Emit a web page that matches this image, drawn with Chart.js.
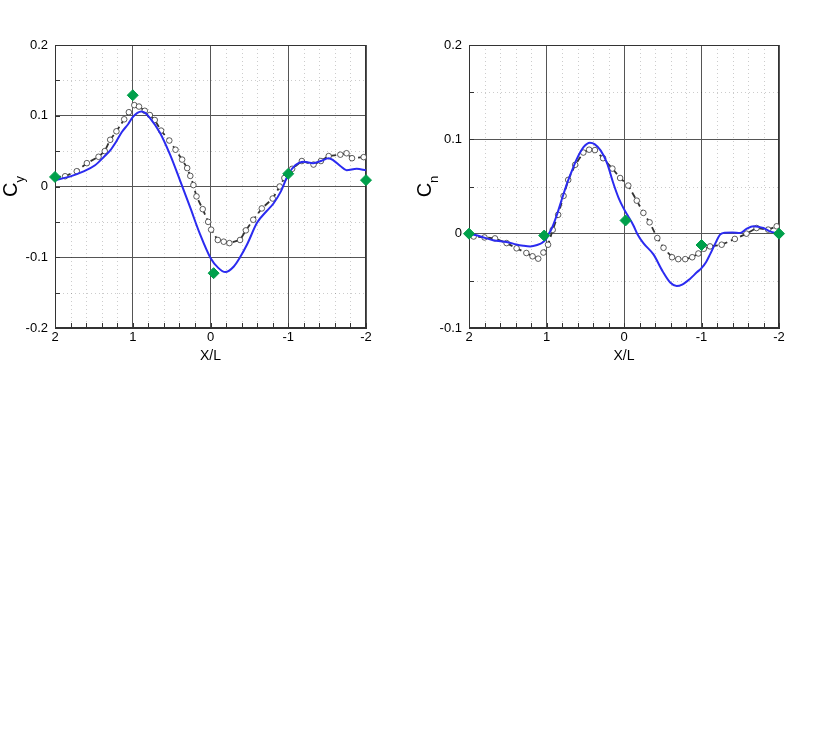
<!DOCTYPE html>
<html>
<head>
<meta charset="utf-8">
<script src="https://cdn.jsdelivr.net/npm/chart.js@4.4.1/dist/chart.umd.min.js"></script>
<style>
  body { margin: 0; background: #fff; width: 830px; height: 739px; position: relative; overflow: hidden; }
  .box { position: absolute; top: 30px; width: 400px; height: 345px; }
  #leftBox { left: 0; }
  #rightBox { left: 410px; }
</style>
</head>
<body>
<div class="box" id="leftBox"><canvas id="cyChart" width="400" height="345"></canvas></div>
<div class="box" id="rightBox"><canvas id="cnChart" width="400" height="345"></canvas></div>
<script>
// tick labels
const xTicks = [2, 1, 0, -1, -2];
const cyTicks = [-0.2, -0.1, 0, 0.1, 0.2];
const cnTicks = [-0.1, 0, 0.1, 0.2];

// Cy - computed (solid blue)
const cyCfdX = [2.0, 1.81, 1.64, 1.485, 1.36, 1.29, 1.21, 1.14, 1.06, 1.0, 0.94, 0.89, 0.84, 0.78, 0.65, 0.52, 0.39, 0.26, 0.14, 0.0, -0.1, -0.19, -0.30, -0.38, -0.47, -0.60, -0.72, -0.81, -0.90, -1.0, -1.09, -1.20, -1.32, -1.42, -1.52, -1.58, -1.67, -1.75, -1.88, -2.0];
const cyCfdY = [0.009, 0.014, 0.021, 0.030, 0.043, 0.051, 0.064, 0.077, 0.088, 0.098, 0.104, 0.106, 0.104, 0.097, 0.076, 0.045, 0.008, -0.030, -0.066, -0.101, -0.115, -0.121, -0.113, -0.100, -0.082, -0.051, -0.035, -0.024, -0.008, 0.017, 0.030, 0.035, 0.033, 0.036, 0.040, 0.037, 0.029, 0.023, 0.025, 0.023];

// Cy - measured (dashed, open circles)
const cyExpX = [2.0, 1.87, 1.72, 1.59, 1.44, 1.36, 1.29, 1.21, 1.11, 1.05, 0.98, 0.92, 0.845, 0.78, 0.717, 0.636, 0.53, 0.45, 0.365, 0.30, 0.26, 0.22, 0.18, 0.10, 0.03, -0.008, -0.094, -0.17, -0.243, -0.38, -0.455, -0.55, -0.66, -0.80, -0.89, -0.95, -1.05, -1.175, -1.325, -1.42, -1.52, -1.67, -1.75, -1.82, -1.97];
const cyExpY = [0.013, 0.0145, 0.0216, 0.033, 0.042, 0.050, 0.066, 0.078, 0.095, 0.105, 0.115, 0.113, 0.107, 0.101, 0.094, 0.079, 0.065, 0.052, 0.038, 0.026, 0.015, 0.002, -0.014, -0.032, -0.050, -0.061, -0.0756, -0.078, -0.080, -0.0756, -0.062, -0.047, -0.031, -0.017, 0.0, 0.012, 0.025, 0.036, 0.031, 0.036, 0.043, 0.045, 0.047, 0.040, 0.0415];

// Cy - green diamonds
const cyDiaX = [2.0, 1.0, -0.04, -1.0, -2.0];
const cyDiaY = [0.0135, 0.129, -0.1225, 0.018, 0.009];

// Cn - computed
const cnCfdX = [2.0, 1.85, 1.69, 1.5, 1.39, 1.3, 1.21, 1.12, 1.06, 1.0, 0.975, 0.93, 0.87, 0.8, 0.74, 0.67, 0.61, 0.52, 0.44, 0.38, 0.30, 0.22, 0.14, 0.07, 0.0, -0.05, -0.12, -0.17, -0.25, -0.38, -0.50, -0.60, -0.68, -0.75, -0.85, -0.94, -1.0, -1.06, -1.11, -1.18, -1.24, -1.30, -1.40, -1.50, -1.58, -1.67, -1.75, -1.80, -1.88, -2.0];
const cnCfdY = [0.0, -0.003, -0.007, -0.009, -0.0115, -0.0128, -0.0135, -0.012, -0.0099, -0.005, -0.001, 0.006, 0.019, 0.037, 0.052, 0.067, 0.079, 0.092, 0.0965, 0.095, 0.088, 0.075, 0.054, 0.038, 0.026, 0.019, 0.009, 0.0, -0.010, -0.022, -0.040, -0.052, -0.0555, -0.054, -0.048, -0.041, -0.0365, -0.030, -0.022, -0.010, -0.001, 0.001, 0.0012, 0.0007, 0.005, 0.0078, 0.007, 0.006, 0.0025, 0.0];

// Cn - measured
const cnExpX = [2.0, 1.94, 1.80, 1.665, 1.515, 1.386, 1.26, 1.18, 1.107, 1.04, 0.98, 0.92, 0.85, 0.78, 0.72, 0.63, 0.525, 0.45, 0.375, 0.27, 0.15, 0.05, -0.055, -0.165, -0.25, -0.33, -0.43, -0.51, -0.62, -0.70, -0.79, -0.88, -0.96, -1.03, -1.11, -1.26, -1.43, -1.58, -1.71, -1.86, -1.97];
const cnExpY = [0.0, -0.003, -0.004, -0.005, -0.010, -0.0155, -0.0205, -0.024, -0.0265, -0.020, -0.0117, 0.004, 0.020, 0.040, 0.057, 0.073, 0.086, 0.089, 0.0886, 0.080, 0.069, 0.059, 0.051, 0.035, 0.022, 0.012, -0.0046, -0.015, -0.025, -0.027, -0.027, -0.025, -0.021, -0.016, -0.0135, -0.0117, -0.0056, 0.0, 0.006, 0.0043, 0.0078];

// Cn - green diamonds
const cnDiaX = [2.0, 1.03, -0.02, -1.0, -2.0];
const cnDiaY = [0.0, -0.002, 0.014, -0.012, 0.0];

const FONT = "'Liberation Sans', Arial, Helvetica, sans-serif";

function pairs(xs, ys) {
  return xs.map((x, i) => ({ x: x, y: ys[i] }));
}

function steps(min, max, step) {
  const out = [];
  const n = Math.round((max - min) / step);
  for (let i = 0; i <= n; i++) out.push(+(min + i * step).toFixed(4));
  return out;
}

// minor dotted grid, inner ticks, frame and the C subscript title
const framePlugin = {
  id: "frame",
  beforeDatasetsDraw(chart, args, opts) {
    const { ctx, chartArea: a, scales } = chart;
    const xs = scales.x, ys = scales.y;
    ctx.save();
    ctx.lineWidth = 1;
    ctx.strokeStyle = "rgba(0,0,0,0.2)";
    ctx.setLineDash([1, 3]);
    ctx.beginPath();
    for (const v of opts.xMinor) {
      if (Number.isInteger(v)) continue;
      const px = Math.round(xs.getPixelForValue(v)) + 0.5;
      ctx.moveTo(px, a.top); ctx.lineTo(px, a.bottom);
    }
    for (const v of opts.yMinor) {
      if (opts.yMajor.some(m => Math.abs(m - v) < 1e-6)) continue;
      const py = Math.round(ys.getPixelForValue(v)) + 0.5;
      ctx.moveTo(a.left, py); ctx.lineTo(a.right, py);
    }
    ctx.stroke();

    ctx.setLineDash([]);
    ctx.strokeStyle = "#333";
    ctx.beginPath();
    for (const v of opts.xMinor) {
      const px = Math.round(xs.getPixelForValue(v)) + 0.5;
      ctx.moveTo(px, a.bottom); ctx.lineTo(px, a.bottom - 5);
    }
    for (const v of opts.yMinor) {
      const py = Math.round(ys.getPixelForValue(v)) + 0.5;
      ctx.moveTo(a.left, py); ctx.lineTo(a.left + 5, py);
    }
    ctx.stroke();

    ctx.strokeStyle = "#333";
    ctx.strokeRect(Math.round(a.left) + 0.5, Math.round(a.top) + 0.5, Math.round(a.width) - 1, Math.round(a.height) - 1);

    // rotated y title with subscript
    const yc = (a.top + a.bottom) / 2;
    ctx.translate(a.left - 45, yc);
    ctx.rotate(-Math.PI / 2);
    ctx.fillStyle = "#000";
    ctx.textBaseline = "alphabetic";
    ctx.font = "20px " + FONT;
    const wC = ctx.measureText("C").width;
    ctx.font = "13px " + FONT;
    const wS = ctx.measureText(opts.sub).width;
    const x0 = -(wC + wS) / 2;
    ctx.font = "20px " + FONT;
    ctx.fillText("C", x0, 7);
    ctx.font = "13px " + FONT;
    ctx.fillText(opts.sub, x0 + wC, 14);
    ctx.restore();
  }
};

function makeChart(canvasId, cfg) {
  return new Chart(document.getElementById(canvasId), {
    type: "scatter",
    plugins: [framePlugin],
    data: {
      datasets: [
        {
          data: pairs(cfg.diaX, cfg.diaY),
          showLine: false,
          pointStyle: "rectRot",
          pointRadius: 5.5,
          backgroundColor: "#00a04b",
          borderColor: "#00a04b",
          borderWidth: 1,
          clip: false,
          order: 0
        },
        {
          data: pairs(cfg.cfdX, cfg.cfdY),
          showLine: true,
          borderColor: "#2b2bf0",
          borderWidth: 2,
          pointRadius: 0,
          cubicInterpolationMode: "monotone",
          order: 1
        },
        {
          data: pairs(cfg.expX, cfg.expY),
          showLine: true,
          borderColor: "#333",
          borderWidth: 1.8,
          borderDash: [6, 4],
          pointRadius: 2.8,
          pointBackgroundColor: "#fff",
          pointBorderColor: "#333",
          pointBorderWidth: 0.8,
          tension: 0,
          order: 2
        }
      ]
    },
    options: {
      responsive: false,
      animation: false,
      layout: { padding: { left: 0, top: 15, right: cfg.padRight, bottom: 0 } },
      plugins: {
        legend: { display: false },
        tooltip: { enabled: false },
        frame: {
          xMinor: steps(-2, 2, 0.2),
          yMinor: steps(cfg.yTicks[0], cfg.yTicks[cfg.yTicks.length - 1], 0.05),
          yMajor: cfg.yTicks,
          sub: cfg.sub
        }
      },
      scales: {
        x: {
          type: "linear",
          reverse: true,
          min: xTicks[xTicks.length - 1],
          max: xTicks[0],
          afterBuildTicks: (scale) => { scale.ticks = xTicks.map(v => ({ value: v })); },
          afterFit: (scale) => { scale.height = 47; },
          ticks: {
            padding: 2,
            color: "#000",
            font: { family: FONT, size: 13 },
            callback: (v) => String(v)
          },
          grid: { color: "#555", lineWidth: 1, drawTicks: false },
          border: { display: true, color: "#333" },
          title: {
            display: true,
            text: "X/L",
            color: "#000",
            font: { family: FONT, size: 14 },
            padding: { top: 0, bottom: 10 }
          }
        },
        y: {
          type: "linear",
          min: cfg.yTicks[0],
          max: cfg.yTicks[cfg.yTicks.length - 1],
          afterBuildTicks: (scale) => { scale.ticks = cfg.yTicks.map(v => ({ value: v })); },
          afterFit: (scale) => { scale.width = cfg.yWidth; },
          ticks: {
            padding: 7,
            color: "#000",
            font: { family: FONT, size: 13 },
            callback: (v) => String(+v.toFixed(2))
          },
          grid: { color: "#555", lineWidth: 1, drawTicks: false },
          border: { display: true, color: "#333" }
        }
      }
    }
  });
}

document.addEventListener("DOMContentLoaded", function() {
  makeChart("cyChart", {
    cfdX: cyCfdX, cfdY: cyCfdY, expX: cyExpX, expY: cyExpY, diaX: cyDiaX, diaY: cyDiaY,
    yTicks: cyTicks, sub: "y", yWidth: 55, padRight: 34
  });
  makeChart("cnChart", {
    cfdX: cnCfdX, cfdY: cnCfdY, expX: cnExpX, expY: cnExpY, diaX: cnDiaX, diaY: cnDiaY,
    yTicks: cnTicks, sub: "n", yWidth: 59, padRight: 31
  });
});
</script>
</body>
</html>
